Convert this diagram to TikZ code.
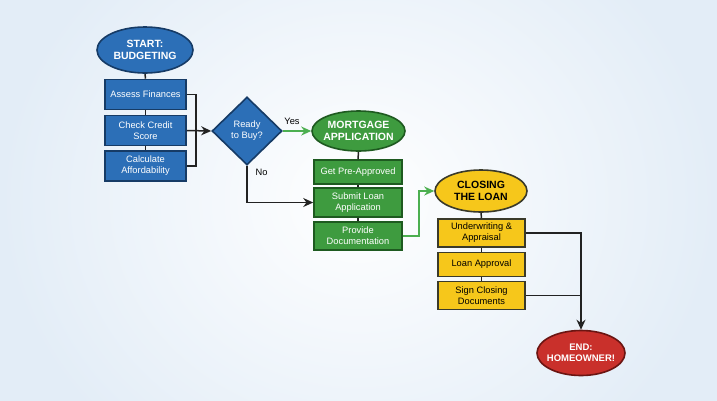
\documentclass[tikz,border=0pt]{standalone}
\usepackage{fontspec}
\setmainfont{Liberation Sans}
\usetikzlibrary{shapes.geometric,arrows.meta}
\definecolor{bluef}{HTML}{2C6FB7}
\definecolor{blued}{HTML}{163B66}
\definecolor{greenf}{HTML}{3E9B3F}
\definecolor{greend}{HTML}{1E5A20}
\definecolor{greenl}{HTML}{4CAF50}
\definecolor{yellowf}{HTML}{F6C71B}
\definecolor{yellowd}{HTML}{3A3A2A}
\definecolor{redf}{HTML}{C9302B}
\definecolor{redd}{HTML}{6B1512}
\definecolor{bgout}{HTML}{E3EDF7}
\definecolor{lnk}{HTML}{222222}
\begin{document}
\begin{tikzpicture}[x=1pt,y=-1pt,
  oval/.style={ellipse, draw, line width=1.6pt, inner xsep=-5pt, inner ysep=-2pt, align=center,
    font=\fontsize{10.5}{12}\selectfont\bfseries},
  boxs/.style={rectangle, draw, line width=1.6pt, inner sep=1pt, align=center,
    font=\fontsize{9.3}{11}\selectfont},
  bluebox/.style={boxs, fill=bluef, draw=blued, text=white, minimum width=81pt},
  greenbox/.style={boxs, fill=greenf, draw=greend, text=white, minimum width=88pt},
  yellowbox/.style={boxs, fill=yellowf, draw=yellowd, text=black, minimum width=87pt},
  link/.style={draw=lnk, line width=1.5pt},
  arr/.style={link, -{Stealth[length=10pt,width=9pt]}},
  garr/.style={draw=greenl, line width=1.7pt, -{Stealth[length=10pt,width=9pt]}},
  lbl/.style={font=\fontsize{9.3}{10.5}\selectfont, text=black}
]
\useasboundingbox (0,0) rectangle (717,400);
\fill[bgout] (0,0) rectangle (717,400);
\shade[inner color=white, outer color=bgout] (0,-120) rectangle (717,520);

% start
\node[oval, fill=bluef, draw=blued, text=white, minimum width=96pt, minimum height=46pt] (s) at (145,50) {START:\\BUDGETING};
\node[bluebox, minimum height=30pt] (a1) at (145.5,94.5) {Assess Finances};
\node[bluebox, minimum height=30pt] (a2) at (145.5,130.5) {Check Credit\\Score};
\node[bluebox, minimum height=30pt] (a3) at (145.5,166) {Calculate\\Affordability};
\draw[link] (s.south) -- (a1.north);
\draw[link] (a1.south) -- (a2.north);
\draw[link] (a2.south) -- (a3.north);
\draw[link] (a1.east) -- ++(9,0) |- (a3.east);

% decision
\node[diamond, draw=blued, line width=1.6pt, fill=bluef, text=white, inner sep=0pt,
  minimum width=70pt, minimum height=68pt, align=center,
  font=\fontsize{9.3}{11}\selectfont] (d) at (247,131) {Ready\\to Buy?};
\draw[arr] (a2.east) -- (d.west);

% mortgage
\node[oval, fill=greenf, draw=greend, text=white, minimum width=93pt, minimum height=40pt] (m) at (358.5,131) {MORTGAGE\\APPLICATION};
\node[greenbox, minimum height=24pt] (m1) at (358,172) {Get Pre-Approved};
\node[greenbox, minimum height=29pt] (m2) at (358,202.5) {Submit Loan\\Application};
\node[greenbox, minimum height=28pt] (m3) at (358,236) {Provide\\Documentation};
\draw[link] (m.south) -- (m1.north);
\draw[link] (m1.south) -- (m2.north);
\draw[link] (m2.south) -- (m3.north);
\draw[garr] (d.east) -- (m.west);
\node[lbl, anchor=south] (yes) at (292,128) {Yes};
\draw[arr] (d.south) |- (m2.west);
\node[lbl, anchor=west] (no) at (252,172) {No};

% closing
\node[oval, fill=yellowf, draw=yellowd, text=black, minimum width=92pt, minimum height=42pt] (c) at (481,191) {CLOSING\\THE LOAN};
\node[yellowbox, minimum height=28pt] (y1) at (481.5,233) {Underwriting \&\\Appraisal};
\node[yellowbox, minimum height=24pt] (y2) at (481.5,264.5) {Loan Approval};
\node[yellowbox, minimum height=28pt] (y3) at (481.5,295.5) {Sign Closing\\Documents};
\draw[link] (c.south) -- (y1.north);
\draw[link] (y1.south) -- (y2.north);
\draw[link] (y2.south) -- (y3.north);
\draw[garr] (m3.east) -- ++(16,0) |- (c.west);

% end
\node[oval, fill=redf, draw=redd, text=white, minimum width=88pt, minimum height=45pt,
  font=\fontsize{9.5}{11}\selectfont\bfseries] (e) at (581,353) {END:\\HOMEOWNER!};
\draw[arr] (y1.east) -| (e.north);
\draw[link] (y3.east) -- (y3.east -| e.north);
\end{tikzpicture}
\end{document}
